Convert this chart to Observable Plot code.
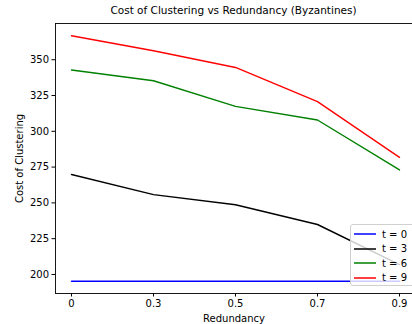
<!DOCTYPE html>
<html>
<head>
<meta charset="utf-8">
<script src="https://cdn.jsdelivr.net/npm/d3@7"></script>
<script src="https://cdn.jsdelivr.net/npm/@observablehq/plot@0.6"></script>
<style>
  html, body { margin: 0; padding: 0; background: #fff; }
  #wrap { position: relative; width: 412px; height: 324px; overflow: hidden; font-family: "DejaVu Sans", sans-serif; }
  #title { position: absolute; left: 55px; width: 357px; top: 4px; text-align: center; font-size: 10.5px; color: #000; }
  #legend { position: absolute; left: 350px; top: 224px; width: 70px; height: 62px; border: 1px solid #d0d0d0; border-radius: 3px; background: rgba(255,255,255,0.8); box-sizing: border-box; font-size: 10px; color: #000; }
  .item { position: absolute; left: 0; height: 14px; display: flex; align-items: center; }
  .item svg { margin-left: 3px; margin-right: 6px; display: block; }
</style>
</head>
<body>
<div id="wrap">
  <div id="title"></div>
  <div id="chart"></div>
  <div id="legend"></div>
</div>
<script>
const titleText = "Cost of Clustering vs Redundancy (Byzantines)";
const redundancy = ["0", "0.3", "0.5", "0.7", "0.9"];
const t0 = [195.3, 195.3, 195.3, 195.3, 195.3];
const t3 = [269.8, 255.8, 248.7, 234.9, 206.8];
const t6 = [342.8, 335.3, 317.4, 307.9, 273.0];
const t9 = [366.7, 356.3, 344.6, 320.7, 281.8];
const seriesNames = ["t = 0", "t = 3", "t = 6", "t = 9"];
const seriesColors = ["blue", "black", "green", "red"];
const yTicks = [200, 225, 250, 275, 300, 325, 350];

const allSeries = [t0, t3, t6, t9];
const rows = [];
allSeries.forEach((vals, i) => {
  vals.forEach((v, j) => rows.push({ series: seriesNames[i], x: redundancy[j], y: v }));
});

document.getElementById("title").textContent = titleText;

const chart = Plot.plot({
  width: 412,
  height: 324,
  marginLeft: 55,
  marginRight: 0,
  marginTop: 23,
  marginBottom: 31,
  style: { fontFamily: "DejaVu Sans, sans-serif", fontSize: "10px", color: "#000", background: "transparent" },
  x: { type: "point", domain: redundancy, range: [70, 400], padding: 0 },
  y: { domain: [186.7, 375.3] },
  color: { domain: seriesNames, range: seriesColors },
  marks: [
    Plot.line(rows, { x: "x", y: "y", z: "series", stroke: "series", strokeWidth: 1.4 }),
    Plot.frame({ stroke: "#000", strokeWidth: 0.9 }),
    Plot.axisX({ tickSize: 3.5, tickPadding: 3, label: "Redundancy", labelAnchor: "center", labelArrow: "none", labelOffset: 28, fontSize: 10 }),
    Plot.axisY({ ticks: yTicks, tickSize: 3.5, tickPadding: 3, label: "Cost of Clustering", labelAnchor: "center", labelArrow: "none", labelOffset: 40, fontSize: 10 })
  ]
});
document.getElementById("chart").appendChild(chart);

const legend = document.getElementById("legend");
const NS = "http://www.w3.org/2000/svg";
seriesNames.forEach((name, i) => {
  const item = document.createElement("div");
  item.className = "item";
  item.style.top = (2 + i * 14.5) + "px";
  const sw = document.createElementNS(NS, "svg");
  sw.setAttribute("width", "22");
  sw.setAttribute("height", "6");
  const ln = document.createElementNS(NS, "line");
  ln.setAttribute("x1", "0"); ln.setAttribute("x2", "22");
  ln.setAttribute("y1", "3"); ln.setAttribute("y2", "3");
  ln.setAttribute("stroke", seriesColors[i]);
  ln.setAttribute("stroke-width", "1.5");
  sw.appendChild(ln);
  const lab = document.createElement("span");
  lab.textContent = name;
  item.appendChild(sw);
  item.appendChild(lab);
  legend.appendChild(item);
});
</script>
</body>
</html>
